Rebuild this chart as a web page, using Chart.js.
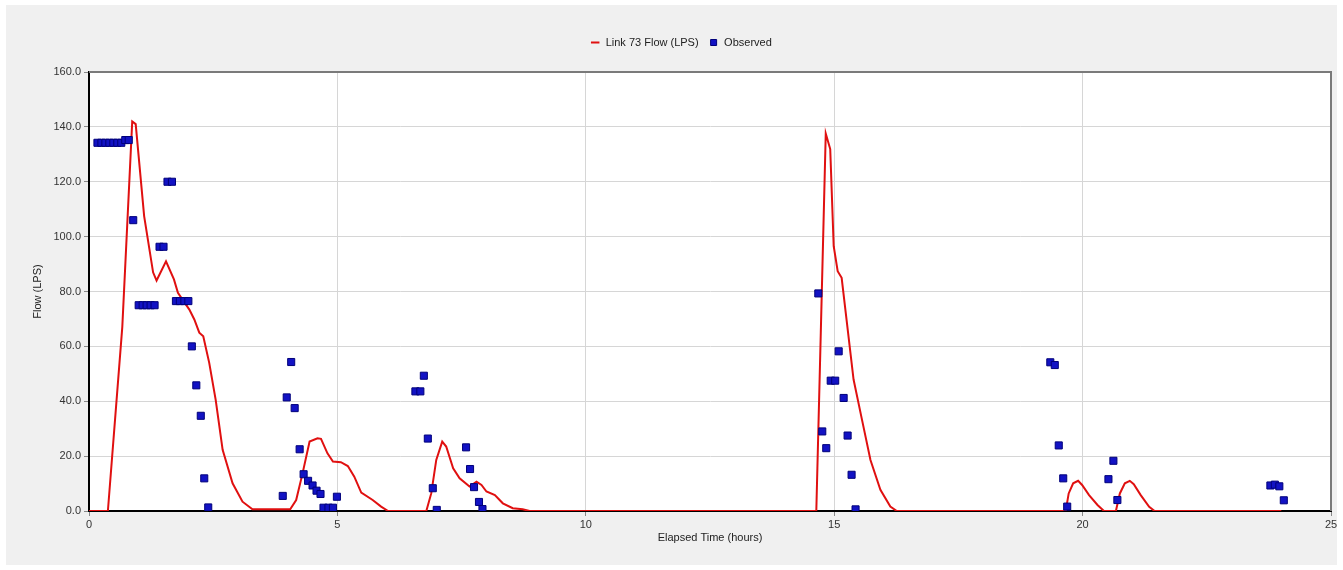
<!DOCTYPE html>
<html>
<head>
<meta charset="utf-8">
<script src="https://cdn.jsdelivr.net/npm/chart.js@4"></script>
<style>
  html, body { margin: 0; padding: 0; background: #fff; }
  #wrap { width: 1343px; height: 570px; position: relative; }
</style>
</head>
<body>
<div id="wrap"><canvas id="flowChart" width="1343" height="570"></canvas></div>
<script>
// ── simulated flow (hours / LPS) ──
const flowTimes = [0, 0.38, 0.67, 0.87, 0.94, 1.11, 1.29, 1.36, 1.55, 1.71, 1.79, 2.02, 2.12, 2.22, 2.30, 2.42, 2.55, 2.69, 2.89, 3.09, 3.29,
    4.05, 4.17, 4.30, 4.44, 4.60, 4.67, 4.80, 4.91, 5.07, 5.21, 5.34, 5.48, 5.71, 5.88, 6.02,
    6.79, 6.89, 6.99, 7.11, 7.19, 7.33, 7.46, 7.66, 7.80, 7.90, 8.00, 8.17, 8.33, 8.53, 8.73, 8.87,
    14.64, 14.73, 14.83, 14.92, 14.99, 15.07, 15.15, 15.39, 15.56, 15.73, 15.93, 16.13, 16.26,
    19.66, 19.72, 19.81, 19.91, 19.99, 20.13, 20.30, 20.43,
    20.67, 20.75, 20.85, 20.95, 21.03, 21.17, 21.34, 21.45, 24.0];
const flowValues = [0, 0, 67, 142, 141, 107.5, 87, 84, 91, 84.4, 79.5, 73.4, 69.8, 65, 63.7, 54, 40.5, 22.3, 10.1, 3.4, 0.6,
    0.6, 4, 13.8, 25.3, 26.5, 26.3, 21, 18, 17.8, 16.4, 12.5, 6.7, 4, 1.6, 0,
    0, 6.5, 18.6, 25.3, 23.5, 15.6, 11.9, 8.9, 10.7, 9.5, 7.1, 5.8, 2.8, 1.0, 0.6, 0,
    0, 65, 137.6, 131.9, 96.5, 87.4, 85, 47.9, 33.2, 18.6, 7.7, 1.6, 0,
    0, 6.4, 10.1, 11.0, 9.5, 5.8, 2.2, 0,
    0, 6.4, 10.1, 11.0, 9.8, 5.8, 1.5, 0, 0];

// ── observed flow ──
const obsTimes = [0.17, 0.25, 0.33, 0.41, 0.49, 0.57, 0.65, 0.73, 0.8, 0.89,
    1.0, 1.08, 1.16, 1.24, 1.32, 1.42, 1.5, 1.58, 1.67, 1.75, 1.83, 1.92, 2.0, 2.07, 2.16, 2.25, 2.32, 2.4,
    3.9, 3.98, 4.07, 4.14, 4.24, 4.32, 4.41, 4.5, 4.58, 4.66, 4.72, 4.82, 4.91, 4.99,
    6.57, 6.67, 6.74, 6.82, 6.92, 7.0, 7.59, 7.67, 7.75, 7.85, 7.92,
    14.68, 14.76, 14.84, 14.93, 15.02, 15.09, 15.19, 15.27, 15.35, 15.43,
    19.35, 19.44, 19.52, 19.61, 19.69, 20.52, 20.62, 20.7, 23.78, 23.87, 23.96, 24.05];
const obsValues = [134.2, 134.2, 134.2, 134.2, 134.2, 134.2, 134.2, 135.2, 135.2, 106,
    75, 75, 75, 75, 75, 96.3, 96.3, 120, 120, 76.5, 76.5, 76.5, 76.5, 60, 45.8, 34.7, 11.9, 1.3,
    5.5, 41.4, 54.3, 37.5, 22.5, 13.4, 11, 9.3, 7.4, 6.2, 1.2, 1.2, 1.2, 5.2,
    43.6, 43.6, 49.3, 26.4, 8.3, 0.4, 23.2, 15.3, 8.7, 3.3, 0.7,
    79.3, 29, 22.9, 47.5, 47.5, 58.2, 41.2, 27.5, 13.2, 0.6,
    54.2, 53.2, 23.9, 11.9, 1.6, 11.6, 18.3, 4.0, 9.3, 9.6, 9.0, 3.9];

const xTicks = [0, 5, 10, 15, 20, 25];
const yMax = 160;

Chart.defaults.font.family = '"Liberation Sans", Arial, sans-serif';
Chart.defaults.font.size = 11;
Chart.defaults.color = '#333';

// panel background + plot frame
const framePlugin = {
    id: 'frame',
    beforeDraw(chart) {
        const { ctx, chartArea: a } = chart;
        ctx.save();
        ctx.fillStyle = '#fff';
        ctx.fillRect(0, 0, chart.width, chart.height);
        ctx.fillStyle = '#f0f0f0';
        ctx.fillRect(6, 5, 1331, 560);
        ctx.fillStyle = '#fff';
        ctx.fillRect(a.left, a.top, a.right - a.left, a.bottom - a.top);
        ctx.restore();
    },
    afterDraw(chart) {
        const { ctx, chartArea: a } = chart;
        ctx.save();
        ctx.strokeStyle = '#7a7a7a';
        ctx.lineWidth = 2;
        ctx.beginPath();
        ctx.moveTo(a.left, a.top);
        ctx.lineTo(a.right, a.top);
        ctx.lineTo(a.right, a.bottom);
        ctx.stroke();
        ctx.restore();
    }
};

new Chart(document.getElementById('flowChart').getContext('2d'), {
    type: 'line',
    data: {
        datasets: [{
            label: 'Link 73 Flow (LPS)',
            data: flowTimes.map((t, i) => ({ x: t, y: flowValues[i] })),
            borderColor: '#e01010',
            backgroundColor: '#e01010',
            borderWidth: 2,
            pointRadius: 0,
            pointStyle: 'line',
            tension: 0,
            order: 1
        }, {
            label: 'Observed',
            type: 'scatter',
            data: obsTimes.map((t, i) => ({ x: t, y: obsValues[i] })),
            pointStyle: 'rect',
            pointRadius: 5,
            backgroundColor: '#1212c4',
            borderColor: '#00007a',
            borderWidth: 1,
            order: 0
        }]
    },
    options: {
        responsive: false,
        animation: false,
        layout: { padding: { left: 31, right: 12, top: 27, bottom: 0 } },
        plugins: {
            tooltip: { enabled: false },
            legend: {
                position: 'top',
                labels: {
                    usePointStyle: true,
                    boxHeight: 6,
                    boxWidth: 10,
                    padding: 10,
                    color: '#222',
                    sort: (a, b) => a.datasetIndex - b.datasetIndex
                }
            }
        },
        scales: {
            x: {
                type: 'linear',
                min: 0,
                max: 25,
                afterBuildTicks: s => { s.ticks = xTicks.map(v => ({ value: v })); },
                afterFit: s => { s.height = 59; },
                ticks: { padding: 2, maxRotation: 0, callback: v => String(v) },
                grid: { color: '#d6d6d6', tickLength: 5, tickColor: '#888' },
                border: { color: '#000', width: 2 },
                title: { display: true, text: 'Elapsed Time (hours)', color: '#222', padding: { top: 0, bottom: 25 } }
            },
            xTop: {
                type: 'linear',
                position: 'top',
                min: 0,
                max: 25,
                afterFit: s => { s.height = 14; },
                ticks: { display: false },
                grid: { display: false },
                border: { display: false }
            },
            y: {
                min: 0,
                max: yMax,
                ticks: { stepSize: 20, padding: 3, callback: v => v.toFixed(1) },
                afterFit: s => { s.width = 58; },
                grid: { color: '#d6d6d6', tickLength: 5, tickColor: '#888' },
                border: { color: '#000', width: 2 },
                title: { display: true, text: 'Flow (LPS)', color: '#222', padding: { top: 0, bottom: 0 } }
            }
        }
    },
    plugins: [framePlugin]
});
</script>
</body>
</html>
